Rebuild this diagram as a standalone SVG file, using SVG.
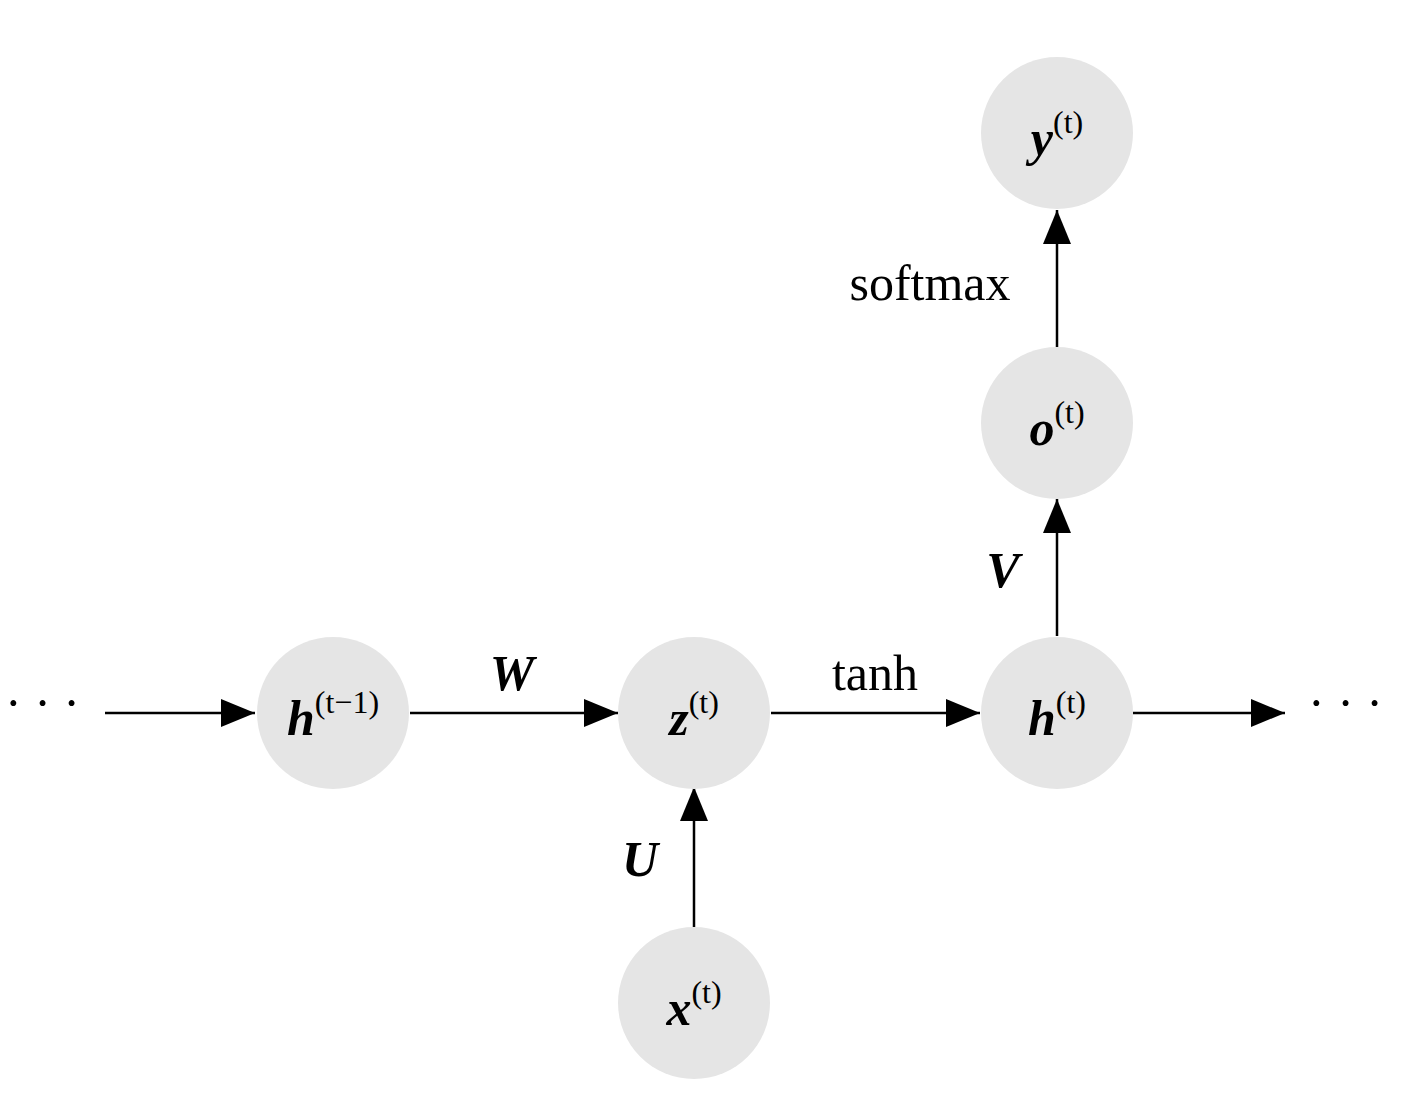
<svg xmlns="http://www.w3.org/2000/svg" width="1416" height="1111" viewBox="0 0 1416 1111">
<style>
.n{fill:#e5e5e5}
.v{font-family:"Liberation Serif",serif;font-weight:bold;font-style:italic;font-size:50px}
.s{font-family:"Liberation Serif",serif;font-size:32px}
.t{font-family:"Liberation Serif",serif;font-size:50px}
.e{stroke:#000;stroke-width:2.5;fill:none;marker-end:url(#a)}
</style>
<defs><marker id="a" markerWidth="34" markerHeight="28" refX="34" refY="14" markerUnits="userSpaceOnUse" orient="auto"><path d="M0,0L34,14L0,28Z" fill="#000"/></marker></defs>
<rect width="1416" height="1111" fill="#fff"/>
<g id="connectors">
<path class="e" d="M105,713H255"/>
<path class="e" d="M410,713H618"/>
<path class="e" d="M771,713H980"/>
<path class="e" d="M1133,713H1285"/>
<path class="e" d="M694,927V787"/>
<path class="e" d="M1057,636V499"/>
<path class="e" d="M1057,347V210"/>
<text class="t" x="5" y="720">· · ·</text>
<text class="t" x="1308" y="720">· · ·</text>
<text class="v" x="512" y="690" text-anchor="middle">W</text>
<text class="t" x="875" y="690" text-anchor="middle">tanh</text>
<text class="v" x="640" y="876" text-anchor="middle">U</text>
<text class="v" x="1003" y="587" text-anchor="middle">V</text>
<text class="t" x="930" y="300" text-anchor="middle">softmax</text>
</g>
<g id="h_prev"><circle class="n" cx="333" cy="713" r="76"/><text x="333" y="735" text-anchor="middle"><tspan class="v">h</tspan><tspan class="s" dy="-22">(t−1)</tspan></text></g>
<g id="z"><circle class="n" cx="694" cy="713" r="76"/><text x="694" y="735" text-anchor="middle"><tspan class="v">z</tspan><tspan class="s" dy="-22">(t)</tspan></text></g>
<g id="h"><circle class="n" cx="1057" cy="713" r="76"/><text x="1057" y="735" text-anchor="middle"><tspan class="v">h</tspan><tspan class="s" dy="-22">(t)</tspan></text></g>
<g id="o"><circle class="n" cx="1057" cy="423" r="76"/><text x="1057" y="445" text-anchor="middle"><tspan class="v">o</tspan><tspan class="s" dy="-22">(t)</tspan></text></g>
<g id="y"><circle class="n" cx="1057" cy="133" r="76"/><text x="1057" y="155" text-anchor="middle"><tspan class="v">y</tspan><tspan class="s" dy="-22">(t)</tspan></text></g>
<g id="x"><circle class="n" cx="694" cy="1003" r="76"/><text x="694" y="1025" text-anchor="middle"><tspan class="v">x</tspan><tspan class="s" dy="-22">(t)</tspan></text></g>
</svg>
